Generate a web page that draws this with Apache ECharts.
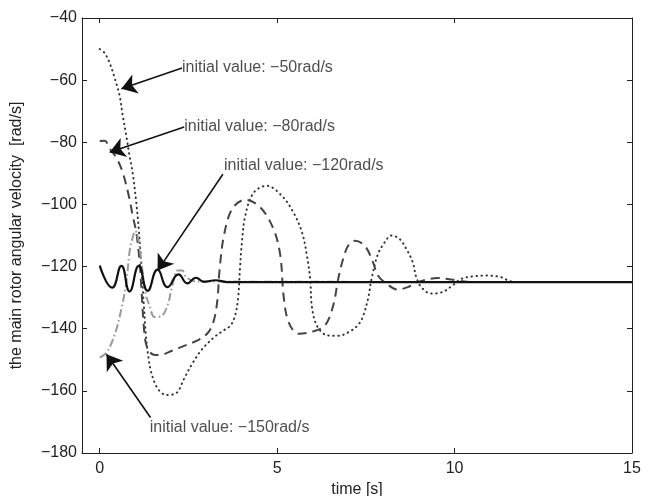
<!DOCTYPE html>
<html>
<head>
<meta charset="utf-8">
<script src="https://cdn.jsdelivr.net/npm/echarts@6/dist/echarts.min.js"></script>
<style>
  html, body { margin: 0; padding: 0; background: #fff; }
  #chart { width: 654px; height: 496px; }
</style>
</head>
<body>
<div id="chart"></div>
<script>
// tick positions
var xTicks = [0, 5, 10, 15];

// curves: [time s, angular velocity rad/s]
var init50 = [[0,-50],[0.14,-51.3],[0.28,-54.5],[0.42,-59.3],[0.56,-65],[0.65,-71.5],[0.75,-78],[0.84,-84.4],[0.93,-90],[1.03,-99.4],[1.1,-108],[1.17,-119],[1.23,-130],[1.3,-142],[1.37,-149],[1.45,-154],[1.63,-159.2],[1.87,-161.3],[2.15,-160.8],[2.38,-156],[2.61,-151.2],[2.89,-146.5],[3.27,-142.3],[3.5,-140.5],[3.69,-138.9],[3.82,-135.5],[3.9,-130],[3.95,-121],[4.0,-113],[4.1,-103.7],[4.34,-96.2],[4.71,-94],[5.13,-97.2],[5.46,-102.6],[5.7,-109],[5.84,-116.5],[5.93,-124],[5.98,-133],[6.12,-139],[6.4,-142.1],[6.72,-142.3],[7.1,-140.5],[7.3,-138.5],[7.42,-136],[7.56,-130.4],[7.66,-124],[7.84,-116],[8.03,-112.2],[8.22,-110],[8.45,-111.1],[8.64,-114.3],[8.82,-118.6],[8.92,-123.4],[9.06,-126.6],[9.34,-128.7],[9.66,-128.2],[9.94,-126.1],[10.18,-124],[10.55,-123.1],[10.92,-122.9],[11.3,-123.4],[11.6,-124.8],[12,-125],[15,-125]];
var init80 = [[0,-79.6],[0.14,-79.5],[0.28,-82],[0.47,-85],[0.65,-89.8],[0.84,-98.3],[0.93,-103.7],[1.03,-109],[1.12,-118],[1.18,-128],[1.24,-139],[1.32,-145.5],[1.5,-148.3],[1.68,-148.5],[2.05,-147],[2.43,-145.3],[2.8,-143.5],[3.05,-141.3],[3.2,-138],[3.31,-131.4],[3.38,-120.7],[3.5,-110],[3.73,-101.5],[4.1,-98.5],[4.53,-101],[4.9,-108],[5.09,-116.5],[5.18,-129.3],[5.32,-137.8],[5.6,-141.6],[5.98,-141],[6.35,-138.9],[6.58,-132.5],[6.72,-124],[6.86,-117.5],[7.0,-113.3],[7.19,-111.7],[7.47,-113.3],[7.7,-118.6],[7.84,-122.9],[8.08,-125.5],[8.4,-127.4],[8.68,-126.6],[8.96,-125],[9.52,-123.7],[10.1,-124.5],[10.5,-125],[15,-125]];
var init120 = [[0,-119.7],[0.35,-126.8],[0.61,-119.8],[0.84,-128],[1.1,-119.8],[1.35,-127.8],[1.63,-121],[1.91,-126.6],[2.22,-122.5],[2.47,-125.4],[2.71,-123.6],[2.94,-124.9],[3.27,-124.4],[3.6,-125],[15,-125]];
var init150 = [[0,-149.3],[0.19,-147.7],[0.42,-142],[0.61,-133.6],[0.75,-125],[0.84,-115.3],[0.92,-111],[1.0,-108.5],[1.1,-112],[1.2,-121],[1.3,-129],[1.4,-132.5],[1.54,-136.2],[1.73,-136],[1.91,-132.5],[2.05,-126],[2.19,-121.3],[2.33,-121.3],[2.43,-123.3],[2.7,-124.8],[15,-125]];

// annotations: arrow tail (text side) -> arrow tip
var arrowLines = [
  [[2.32,-56.1],[0.61,-62.8]],
  [[2.38,-75.1],[0.28,-83.2]],
  [[3.47,-90.3],[1.63,-121.3]],
  [[1.43,-168.6],[0.19,-148.2]]
];
var noteText = ['initial value: \u221250rad/s', 'initial value: \u221280rad/s', 'initial value: \u2212120rad/s', 'initial value: \u2212150rad/s'];
var notePos = [[2.32,-56.1],[2.38,-75.1],[3.5,-87.6],[1.41,-171.8]];

var FONT = '"Liberation Sans", Arial, Helvetica, sans-serif';
var ink = '#222';

function minus(v) { return String(v).replace('-', '\u2212'); }

var chart = echarts.init(document.getElementById('chart'));

var axisCommon = {
  axisLine: {show: true, onZero: false, lineStyle: {color: ink, width: 1}},
  axisTick: {inside: true, length: 5, lineStyle: {color: ink}},
  splitLine: {show: false}
};

function curve(data, color, width, type, cap, smooth) {
  return {
    type: 'line', data: data, showSymbol: false, smooth: smooth == null ? 0.35 : smooth, z: 3,
    lineStyle: {color: color, width: width, type: type, cap: cap || 'butt'}
  };
}

chart.setOption({
  animation: false,
  grid: {left: 82, right: 22, top: 18, bottom: 43, containLabel: false, outerBoundsMode: 'none'},
  xAxis: [
    echarts.util.merge({
      type: 'value', min: -0.5, max: 15, position: 'bottom',
      name: 'time [s]', nameLocation: 'middle', nameGap: 29,
      nameTextStyle: {color: ink, fontSize: 16, fontFamily: FONT},
      axisTick: {customValues: xTicks},
      axisLabel: {customValues: xTicks, color: ink, fontSize: 16, fontFamily: FONT, margin: 8}
    }, axisCommon, false),
    echarts.util.merge({
      type: 'value', min: -0.5, max: 15, position: 'top',
      axisTick: {customValues: xTicks},
      axisLabel: {show: false}
    }, axisCommon, false)
  ],
  yAxis: [
    echarts.util.merge({
      type: 'value', min: -180, max: -40, interval: 20, position: 'left',
      name: 'the main rotor angular velocity  [rad/s]', nameLocation: 'middle', nameGap: 57, nameRotate: 90,
      nameTextStyle: {color: ink, fontSize: 16, fontFamily: FONT},
      axisLabel: {color: ink, fontSize: 16, fontFamily: FONT, margin: 5, formatter: minus}
    }, axisCommon, false),
    echarts.util.merge({
      type: 'value', min: -180, max: -40, interval: 20, position: 'right',
      axisLabel: {show: false}
    }, axisCommon, false)
  ],
  series: [
    curve(init50, '#333', 2, [0.5, 4.5], 'round'),
    curve(init80, '#444', 2, [9, 6]),
    curve(init150, '#999', 2, [8, 3, 1.5, 3]),
    curve(init120, '#111', 2.2, 'solid', 'butt', 0.5),
    {
      type: 'lines', coordinateSystem: 'cartesian2d', z: 5,
      symbol: ['none', 'arrow'], symbolSize: [10, 15],
      lineStyle: {color: '#111', width: 1.6, opacity: 1},
      data: arrowLines.map(function (c) { return {coords: c}; })
    },
    {
      type: 'scatter', symbolSize: 0, z: 6,
      data: notePos.map(function (p, i) { return {value: p, name: noteText[i]}; }),
      label: {
        show: true, position: 'right', distance: 0,
        formatter: function (p) { return p.name; },
        color: ink, fontSize: 16, fontFamily: FONT
      }
    }
  ]
});
</script>
</body>
</html>
